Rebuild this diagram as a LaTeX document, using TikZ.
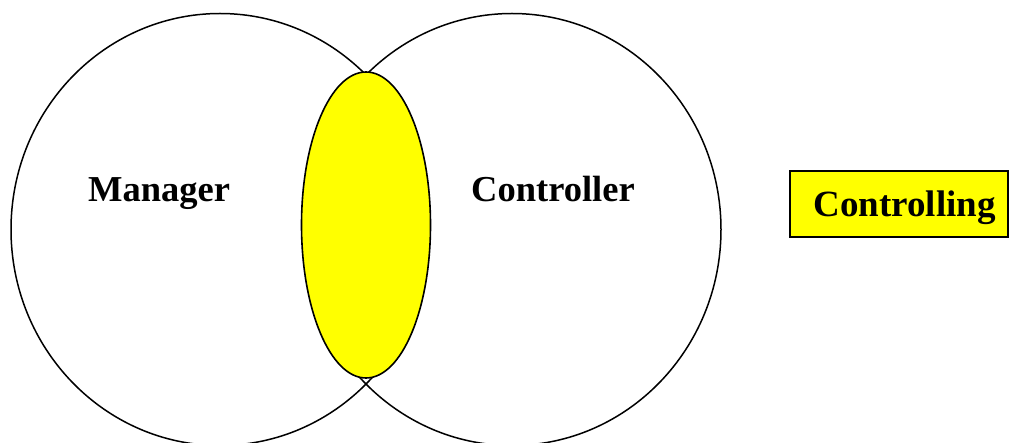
\documentclass[tikz,border=0pt]{standalone}
\usepackage{fontspec}
\setmainfont{Liberation Serif}
\definecolor{setyellow}{RGB}{255,255,0}
\begin{document}
\begin{tikzpicture}[x=1pt,y=-1pt,
  ring/.style={draw=black,line width=1.5pt},
  overlap/.style={draw=black,fill=setyellow,line width=1.6pt},
  label/.style={anchor=base,inner sep=0pt,font=\fontsize{36.5}{40}\selectfont\bfseries},
  tagbox/.style={draw=black,fill=setyellow,line width=1.8pt,minimum width=218pt,minimum height=66pt,inner sep=0pt}]
  \useasboundingbox (0,0) rectangle (1010,443);
  % two overlapping sets
  \draw[ring] (220,229.5) ellipse [x radius=209,y radius=216];
  \draw[ring] (512,229.5) ellipse [x radius=209,y radius=216];
  % shared region
  \draw[overlap] (366,225) ellipse [x radius=64.5,y radius=153];
  % set names
  \node[label] (manager) at (159,201.7) {Manager};
  \node[label] (controller) at (553,201.7) {Controller};
  % result tag
  \node[tagbox] (controlling) at (899.3,204) {};
  \node[label,font=\fontsize{37}{40}\selectfont\bfseries] (controllingtext) at (904.5,216.7) {Controlling};
\end{tikzpicture}
\end{document}
